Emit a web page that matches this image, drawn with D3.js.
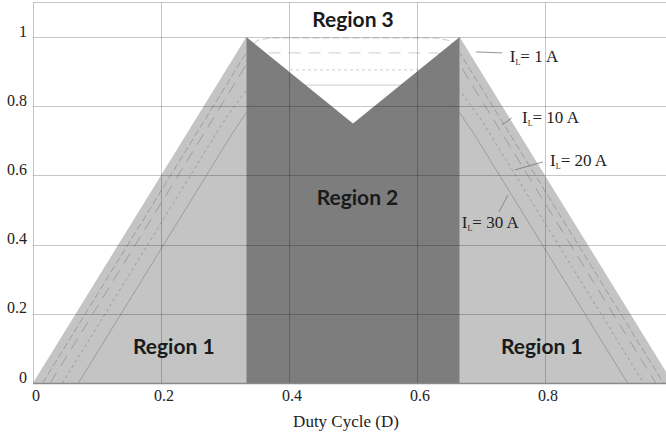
<!DOCTYPE html>
<html>
<head>
<meta charset="utf-8">
<script src="https://cdn.jsdelivr.net/npm/d3@7"></script>
<style>
  body { margin: 0; background: #fff; }
  svg { display: block; }
  .serif { font-family: "Liberation Serif", "Times New Roman", serif; }
</style>
</head>
<body>
<svg width="666" height="436"></svg>
<script>
// regions (duty cycle D, normalised value)
const region1Left = [[0, 0], [1 / 3, 1], [1 / 3, 0]];
const region1Right = [[2 / 3, 0], [2 / 3, 1], [1, 0]];
const region2 = [[1 / 3, 0], [1 / 3, 1], [0.5, 0.75], [2 / 3, 1], [2 / 3, 0]];

// load current curves
const curveNames = ["1 A", "10 A", "20 A", "30 A"];
const curve1A = [[0.015, 0], [0.33, 0.945], [0.35, 0.99], [0.37, 0.997], [0.63, 0.997], [0.65, 0.99], [0.67, 0.945], [0.985, 0]];
const curve10A = [[0.027, 0], [0.32, 0.88], [0.333, 0.92], [0.35, 0.948], [0.37, 0.954], [0.63, 0.954], [0.65, 0.948], [0.667, 0.92], [0.68, 0.88], [0.973, 0]];
const curve20A = [[0.046, 0], [0.30, 0.762], [0.333, 0.845], [0.36, 0.89], [0.39, 0.905], [0.61, 0.905], [0.64, 0.89], [0.667, 0.845], [0.70, 0.762], [0.954, 0]];
const curve30A = [[0.071, 0], [0.31, 0.717], [0.333, 0.78], [0.36, 0.835], [0.40, 0.861], [0.60, 0.861], [0.64, 0.835], [0.667, 0.78], [0.69, 0.717], [0.929, 0]];
const curves = [curve1A, curve10A, curve20A, curve30A];
const curveDash = ["7,3", "12,8", "3,3", null];

// label anchors: text position, leader start, leader end
const labelPos = [[0.745, 0.928], [0.764, 0.751], [0.808, 0.627], [0.670, 0.448]];
const leaderFrom = [[0.692, 0.957], [0.733, 0.746], [0.753, 0.616], [0.742, 0.543]];
const leaderTo = [[0.733, 0.954], [0.748, 0.766], [0.797, 0.639], [0.728, 0.494]];

const xTicks = [0, 0.2, 0.4, 0.6, 0.8];
const yTicks = [0, 0.2, 0.4, 0.6, 0.8, 1];

const svg = d3.select("svg");
const x = d3.scaleLinear().domain([0, 1]).range([33, 673]);
const y = d3.scaleLinear().domain([0, 1.1]).range([383, 2.4]);
const line = d3.line().x(d => x(d[0])).y(d => y(d[1]));

svg.append("defs").append("clipPath").attr("id", "plot")
    .append("rect").attr("x", 33).attr("y", 2).attr("width", 640).attr("height", 381);

const plot = svg.append("g").attr("clip-path", "url(#plot)");

plot.append("path").attr("d", line(region1Left) + "Z").attr("fill", "#c4c4c4");
plot.append("path").attr("d", line(region1Right) + "Z").attr("fill", "#c4c4c4");

curves.forEach((c, i) => {
    plot.append("path")
        .attr("d", line(c))
        .attr("fill", "none")
        .attr("stroke", "#000")
        .attr("stroke-opacity", 0.2)
        .attr("stroke-width", 1)
        .attr("stroke-dasharray", curveDash[i]);
});

// dark region sits over the curves, letting them show faintly
plot.append("path").attr("d", line(region2) + "Z").attr("fill", "#727272").attr("fill-opacity", 0.92);

// grid
const grid = svg.append("g").attr("stroke", "#000").attr("stroke-opacity", 0.22).attr("stroke-width", 1);
xTicks.forEach(t => {
    grid.append("line")
        .attr("x1", Math.round(x(t)) + 0.5).attr("x2", Math.round(x(t)) + 0.5)
        .attr("y1", y(1.1)).attr("y2", y(0));
});
yTicks.concat([1.1]).forEach(t => {
    grid.append("line")
        .attr("x1", x(0)).attr("x2", 666)
        .attr("y1", Math.round(y(t)) + 0.5).attr("y2", Math.round(y(t)) + 0.5);
});
svg.append("line")
    .attr("x1", x(0)).attr("x2", 666)
    .attr("y1", y(0) + 0.5).attr("y2", y(0) + 0.5)
    .attr("stroke", "#8a8a8a").attr("stroke-width", 1.5);

// tick labels
svg.append("g").selectAll("text").data(yTicks).join("text")
    .attr("class", "serif")
    .attr("x", 27).attr("y", d => y(d) - 4)
    .attr("text-anchor", "end").attr("dominant-baseline", "middle")
    .attr("font-size", 16).attr("fill", "#222")
    .text(d => d3.format("~g")(d));
svg.append("g").selectAll("text").data(xTicks).join("text")
    .attr("class", "serif")
    .attr("x", d => x(d) + 3).attr("y", 397)
    .attr("text-anchor", "middle").attr("dominant-baseline", "middle")
    .attr("font-size", 16).attr("fill", "#222")
    .text(d => d3.format("~g")(d));
svg.append("text")
    .attr("class", "serif")
    .attr("x", 346).attr("y", 423)
    .attr("text-anchor", "middle").attr("dominant-baseline", "middle")
    .attr("font-size", 17).attr("fill", "#222")
    .text("Duty Cycle (D)");

// region labels
const regionLabels = [
    ["Region 3", 0.5, 1.045],
    ["Region 2", 0.507, 0.53],
    ["Region 1", 0.22, 0.10],
    ["Region 1", 0.795, 0.10]
];
svg.append("g").selectAll("text").data(regionLabels).join("text")
    .attr("x", d => x(d[1])).attr("y", d => y(d[2]))
    .attr("text-anchor", "middle").attr("dominant-baseline", "middle")
    .attr("font-family", "Lato, 'DejaVu Sans', sans-serif").attr("font-weight", 700)
    .attr("font-size", 21).attr("fill", "#1a1a1a")
    .text(d => d[0]);

// current labels with leaders
curveNames.forEach((name, i) => {
    svg.append("line")
        .attr("x1", x(leaderFrom[i][0])).attr("y1", y(leaderFrom[i][1]))
        .attr("x2", x(leaderTo[i][0])).attr("y2", y(leaderTo[i][1]))
        .attr("stroke", "#777").attr("stroke-width", 0.8);
    const t = svg.append("text")
        .attr("class", "serif")
        .attr("x", x(labelPos[i][0])).attr("y", y(labelPos[i][1]))
        .attr("font-size", 17).attr("fill", "#222");
    t.append("tspan").text("I");
    t.append("tspan").attr("font-size", 8).attr("dy", 3).text("L");
    t.append("tspan").attr("dy", -3).text("= " + name);
});
</script>
</body>
</html>
